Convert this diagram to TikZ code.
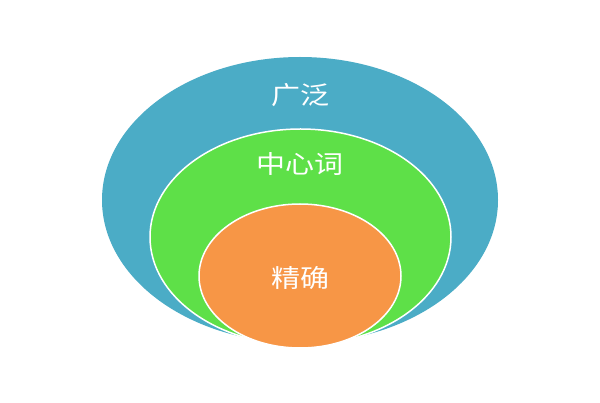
\documentclass[tikz,border=0pt]{standalone}
\usepackage{fontspec}
\newfontfamily\cjk{Noto Sans CJK SC}
\definecolor{outerblue}{HTML}{4BACC6}
\definecolor{midgreen}{HTML}{5EE048}
\definecolor{innerorange}{HTML}{F79646}
\begin{document}
\begin{tikzpicture}[x=1pt,y=-1pt,
  ring/.style={draw=white,line width=1.5pt},
  lbl/.style={text=white,font=\cjk\fontsize{25}{27}\selectfont,inner sep=0pt,xscale=1.16}]
\useasboundingbox (0,0) rectangle (600,403);
\fill[white] (0,0) rectangle (600,403);
\fill[outerblue] (300,200) ellipse [x radius=198, y radius=143];
\draw[ring,fill=midgreen] (300.5,237) ellipse [x radius=150.5, y radius=108];
\draw[ring,fill=innerorange] (300,276) ellipse [x radius=101, y radius=72];
\node[lbl] (t1) at (300,95) {广泛};
\node[lbl] (t2) at (300,164.5) {中心词};
\node[lbl] (t3) at (300,278) {精确};
\end{tikzpicture}
\end{document}
